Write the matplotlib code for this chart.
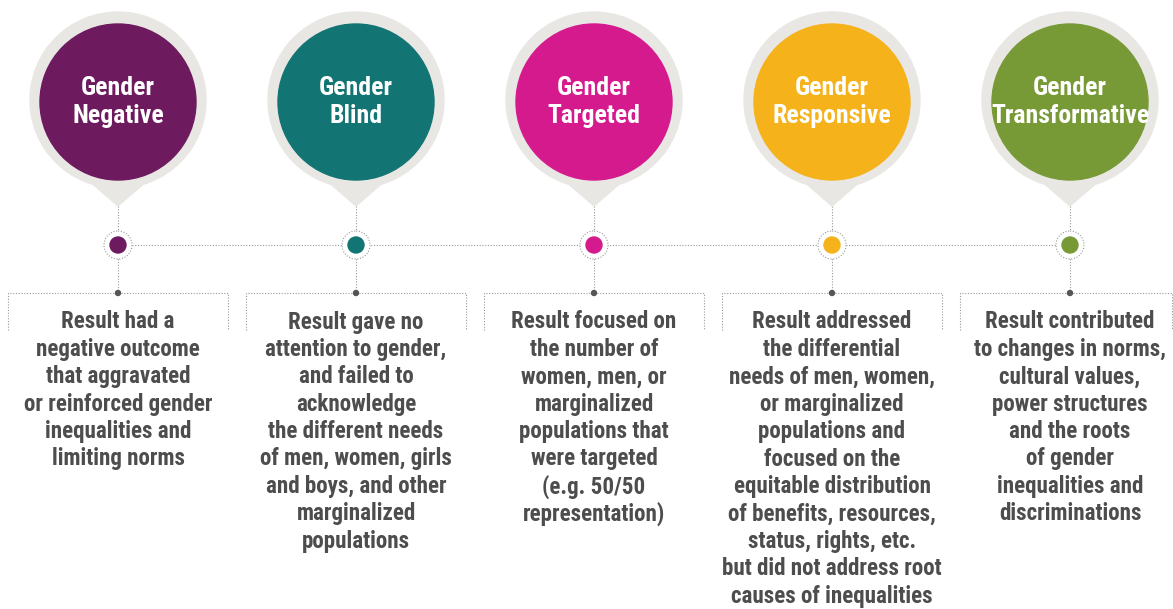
"""Gender results continuum infographic."""
import matplotlib
matplotlib.use("Agg")
import matplotlib.pyplot as plt
from matplotlib.patches import Circle, Polygon

titles = [
    ["Gender", "Negative"],
    ["Gender", "Blind"],
    ["Gender", "Targeted"],
    ["Gender", "Responsive"],
    ["Gender", "Transformative"],
]
colors = ["#6d1a5f", "#127473", "#d51a8e", "#f5b21b", "#789a36"]
descriptions = [
    ["Result had a", "negative outcome", "that aggravated",
     "or reinforced gender", "inequalities and", "limiting norms"],
    ["Result gave no", "attention to gender,", "and failed to",
     "acknowledge", "the different needs", "of men, women, girls",
     "and boys, and other", "marginalized", "populations"],
    ["Result focused on", "the number of", "women, men, or",
     "marginalized", "populations that", "were targeted",
     "(e.g. 50/50", "representation)"],
    ["Result addressed", "the differential", "needs of men, women,",
     "or marginalized", "populations and", "focused on the",
     "equitable distribution", "of benefits, resources,",
     "status, rights, etc.", "but did not address root",
     "causes of inequalities"],
    ["Result contributed", "to changes in norms,", "cultural values,",
     "power structures", "and the roots", "of gender",
     "inequalities and", "discriminations"],
]

W, H = 1173, 609
fig = plt.figure(figsize=(W / 100, H / 100), dpi=100)
ax = fig.add_axes([0, 0, 1, 1])
ax.set_xlim(0, W)
ax.set_ylim(H, 0)
ax.axis("off")

font = ["Roboto Condensed", "DejaVu Sans"]
dot_col = "#9a9a9a"
ring = "#e8e7e3"
cx0, step = 118, 238
cy, r_out, r_in = 100, 88, 78
tip_y, line_y, box_y = 206, 245, 293

# horizontal connector
ax.plot([cx0, cx0 + 4 * step], [line_y, line_y], ls=(0, (1, 1.5)),
        color=dot_col, lw=0.8, zorder=1)

for i, (title, col, desc) in enumerate(zip(titles, colors, descriptions)):
    cx = cx0 + i * step
    # pin shape
    ax.add_patch(Polygon([[cx - 30, cy + 80], [cx + 30, cy + 80], [cx, tip_y]],
                         closed=True, color=ring, zorder=2))
    ax.add_patch(Circle((cx, cy), r_out, color=ring, zorder=2))
    ax.add_patch(Circle((cx, cy + 2), r_in, color=col, zorder=3))
    ax.text(cx, cy - 12, title[0], ha="center", va="center", color="white",
            fontsize=18.5, fontweight="bold", family=font, zorder=4)
    ax.text(cx, cy + 16, title[1], ha="center", va="center", color="white",
            fontsize=18.5, fontweight="bold", family=font, zorder=4)

    # vertical dotted stems
    ax.plot([cx, cx], [tip_y, box_y], ls=(0, (1, 1.5)), color=dot_col,
            lw=0.8, zorder=1)
    ax.add_patch(Circle((cx, line_y), 14, facecolor="white", edgecolor=dot_col,
                        ls=(0, (1, 1.5)), lw=0.8, zorder=4))
    ax.add_patch(Circle((cx, line_y), 8, color=col, zorder=5))
    ax.add_patch(Circle((cx, box_y), 2.5, color="#555555", zorder=5))

    # open dotted box
    x0 = cx - 110
    x1 = min(cx + 110, W - 1)
    ax.plot([x0, x0, x1, x1], [330, box_y, box_y, 330], ls=(0, (1, 1.5)),
            color=dot_col, lw=0.8, zorder=1)

    for j, line in enumerate(desc):
        ax.text(cx, 322 + j * 27.4, line, ha="center", va="center",
                color="#4d4d4d", fontsize=16.6, fontweight="bold",
                family=font)

fig.savefig("out.png", dpi=100, facecolor="white")
